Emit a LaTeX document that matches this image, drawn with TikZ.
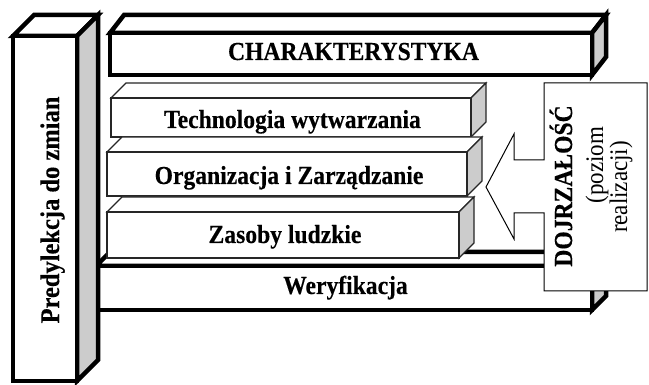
\documentclass[tikz,border=0pt]{standalone}
\usepackage{fontspec}
\setmainfont[BoldFeatures={FakeBold=0.3}]{Liberation Serif}
\newcommand\tallify[1]{\scalebox{1}[1.1]{#1}}
\tikzset{
  heavy/.style={line width=4.5pt, line join=miter, draw=black},
  light/.style={line width=1.2pt, line join=miter, draw=black!85},
  sideface/.style={fill=black!20},
  lbl/.style={font=\fontsize{23.6}{28}\selectfont\bfseries, inner sep=0pt, anchor=base},
  lblreg/.style={font=\fontsize{23}{28}\selectfont, inner sep=0pt, anchor=base},
  arrowbox/.style={line width=1pt, draw=black, fill=white, line join=miter},
}
% #1 style, #2 x1, #3 y1 (top), #4 x2, #5 y2 (bottom), #6 dx, #7 dy (depth)
\newcommand\mycuboid[7]{%
  \draw[#1, fill=white] (#2,#3) -- ({#2+#6},{#3-#7}) -- ({#4+#6},{#3-#7}) -- (#4,#3) -- cycle;
  \draw[#1, sideface] (#4,#3) -- ({#4+#6},{#3-#7}) -- ({#4+#6},{#5-#7}) -- (#4,#5) -- cycle;
  \draw[#1, fill=white] (#2,#3) rectangle (#4,#5);
}
\begin{document}
\begin{tikzpicture}[x=1pt, y=-1pt]
\useasboundingbox (0,0) rectangle (649,385);
% Weryfikacja (back)
\mycuboid{heavy}{96}{266}{592}{310}{14}{14}
% inner stack
\mycuboid{light}{111}{98}{471}{137}{15}{15}
\mycuboid{light}{107}{152}{467}{196}{15}{15}
\mycuboid{light}{107}{212}{459}{258}{15}{15}
% CHARAKTERYSTYKA
\mycuboid{heavy}{110}{33}{592}{75}{14}{18}
% pillar
\mycuboid{heavy}{13}{36}{77}{381}{21}{21}
% arrow box
\draw[arrowbox] (544,83) -- (647,83) -- (647,291) -- (544,291) -- (544,213)
  -- (514,213) -- (514,239) -- (486,187) -- (514,134) -- (514,160) -- (544,160) -- cycle;
% texts
\node[lbl] (char) at (353.5,60) {\tallify{CHARAKTERYSTYKA}};
\node[lbl] (tech) at (292.5,128) {\tallify{Technologia wytwarzania}};
\node[lbl] (org) at (289,184) {\tallify{Organizacja i Zarządzanie}};
\node[lbl] (zas) at (285,243) {\tallify{Zasoby ludzkie}};
\node[lbl] (wer) at (345.5,294) {\tallify{Weryfikacja}};
\node[lbl, rotate=90, font=\fontsize{24.5}{28}\selectfont\bfseries] (pred) at (59,210) {\tallify{Predylekcja do zmian}};
\node[lbl, rotate=90] (doj) at (572,186) {\tallify{DOJRZAŁOŚĆ}};
\node[lblreg, rotate=90] (poz) at (603,165) {\tallify{(poziom}};
\node[lblreg, rotate=90] (real) at (627,187) {\tallify{realizacji)}};
\end{tikzpicture}
\end{document}
